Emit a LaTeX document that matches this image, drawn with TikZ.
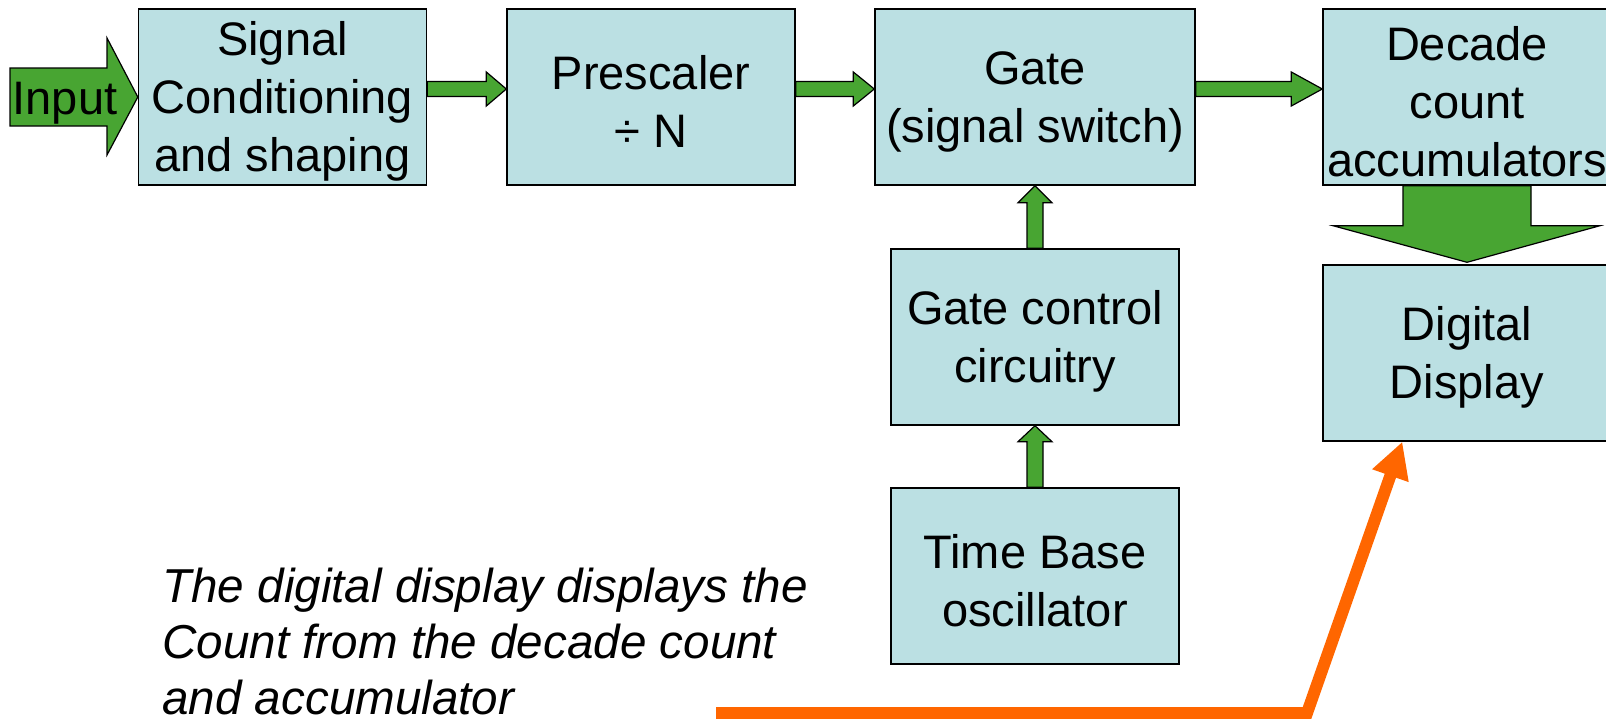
\documentclass[tikz,border=0pt]{standalone}
\usepackage{fontspec}
\setmainfont{Liberation Sans}
\usetikzlibrary{calc,arrows.meta}
\definecolor{boxblue}{HTML}{BBE0E3}
\definecolor{blkgreen}{RGB}{72,165,50}
\definecolor{ornge}{HTML}{FF6600}
\newcommand\tstrut{\rule{0pt}{21.5pt}}
% horizontal block arrow: from, to, head length (px)
\newcommand\hblockarrow[3]{%
  \filldraw[blk] ($(#1.east)+(0,-15.5)$) -- ($(#2.west)+(-#3,-15.5)$) -- ($(#2.west)+(-#3,-25)$)
    -- ($(#2.west)+(0,-8)$) -- ($(#2.west)+(-#3,9)$) -- ($(#2.west)+(-#3,-0.5)$)
    -- ($(#1.east)+(0,-0.5)$) -- cycle;}
% vertical block arrow upwards: from (below), to (above), head length (px)
\newcommand\vblockarrow[3]{%
  \filldraw[blk] ($(#1.north)+(-8,0)$) -- ($(#2.south)+(-8,#3)$) -- ($(#2.south)+(-17,#3)$)
    -- (#2.south) -- ($(#2.south)+(17,#3)$) -- ($(#2.south)+(8,#3)$)
    -- ($(#1.north)+(8,0)$) -- cycle;}
\begin{document}
\begin{tikzpicture}[x=0.5pt,y=-0.5pt,
  box/.style={draw=black,line width=0.7pt,fill=boxblue,minimum width=144pt,minimum height=88pt,
    inner sep=0pt,align=center,font=\fontsize{23.5pt}{29pt}\selectfont},
  blk/.style={fill=blkgreen,draw=black,line width=0.6pt,line join=miter},
  lbl/.style={inner sep=0pt,font=\fontsize{23.5pt}{29pt}\selectfont}]
\useasboundingbox (0,0) rectangle (1606,718);

\node[box] (sig) at (282.5,97) {\tstrut Signal\\Conditioning\\and shaping};
\node[box] (pre) at (651,97) {\tstrut Prescaler\\÷ N};
\node[box,minimum width=160pt] (gate) at (1035,97) {\tstrut Gate\\(signal switch)};
\node[box] (dec) at (1467,97) {\tstrut Decade\\count\\accumulators};
\node[box] (disp) at (1467,353) {\tstrut Digital\\Display};
\node[box] (gc) at (1035,337) {\tstrut Gate control\\circuitry};
\node[box] (tb) at (1035,576) {\tstrut Time Base\\oscillator};

% input arrow
\filldraw[blk] (10,68) -- (107,68) -- (107,38) -- (sig.west) -- (107,155) -- (107,126) -- (10,126) -- cycle;
\node[lbl,anchor=base] (inlbl) at (65,114) {Input};

\hblockarrow{sig}{pre}{20}
\hblockarrow{pre}{gate}{21}
\hblockarrow{gate}{dec}{31}
\vblockarrow{gc}{gate}{17}
\vblockarrow{tb}{gc}{16}

% big down arrow
\coordinate (btip) at ($(disp.north)+(0,-2)$);
\filldraw[blk] ($(dec.south)+(-64,0)$) -- ($(dec.south)+(-64,40)$) -- ($(dec.south)+(-134,40)$)
  -- (btip) -- ($(dec.south)+(133,40)$) -- ($(dec.south)+(64,40)$) -- ($(dec.south)+(64,0)$) -- cycle;

\node[anchor=north west,align=left,inner sep=0pt,font=\itshape\fontsize{23.8pt}{28pt}\selectfont]
  (note) at (162,568) {The digital display displays the\\Count from the decade count\\and accumulator};

\coordinate (ostart) at (716,713);
\coordinate (obend) at (1307,713);
\coordinate (otip) at ($(disp.south west)+(80,0)$);
\draw[ornge,line width=6pt,line join=miter,-{Triangle[length=18pt,width=18pt]}] (ostart) -- (obend) -- (otip);
\end{tikzpicture}
\end{document}
